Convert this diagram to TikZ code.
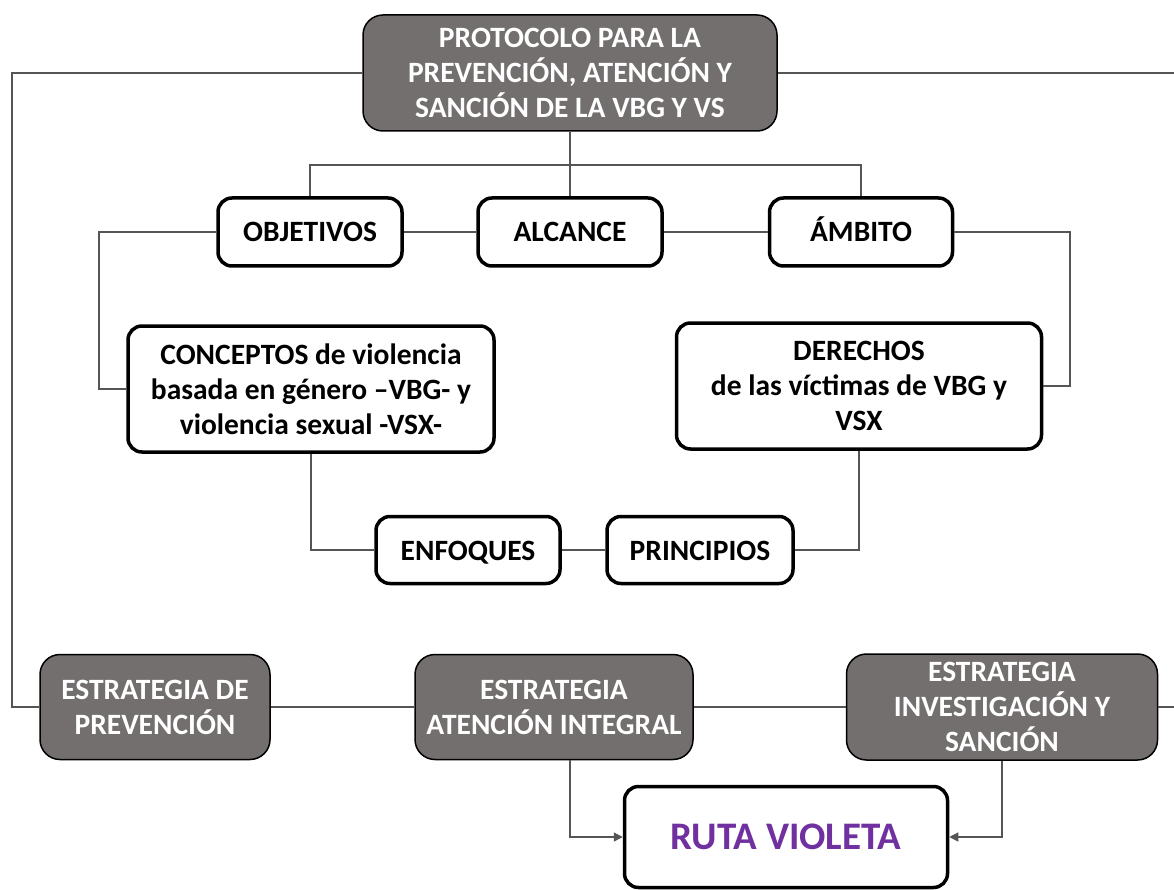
\documentclass[tikz,border=0pt]{standalone}
\usepackage{fontspec}
\setmainfont{Carlito}
\usepackage{xcolor}
\usepackage{tikz}
\usetikzlibrary{arrows.meta}
\definecolor{darkbox}{HTML}{736F6E}
\definecolor{violeta}{HTML}{7030A0}
\definecolor{linegray}{HTML}{555555}

\begin{document}
\begin{tikzpicture}[x = 1pt, y = -1pt, every text node part/.style={align=center}]
			\tikzstyle{lbl} = [font = \fontsize{29.5}{35}\selectfont\bfseries, inner sep = 0pt]
			\tikzstyle{dark} = [lbl, draw = black, line width = 1.5pt, fill = darkbox, text = white, rounded corners = 20pt]
			\tikzstyle{light} = [lbl, draw = black, line width = 3.5pt, fill = white, rounded corners = 14pt]
			\tikzstyle{oneline} = [light, text height = 23pt, text depth = 3pt]
			\tikzstyle{conn} = [draw = linegray, line width = 1.3pt]
			\tikzstyle{arr} = [conn, -{Triangle[length=9pt, width=9pt]}]
			\useasboundingbox (0, 0) rectangle (1174, 890);
			\path (570, 73) node[dark, minimum width = 414, minimum height = 116] (top) {PROTOCOLO PARA LA\\PREVENCIÓN, ATENCIÓN Y\\SANCIÓN DE LA VBG Y VS};
			\path (310, 232) node[oneline, minimum width = 184, minimum height = 68] (obj) {OBJETIVOS};
			\path (570, 232) node[oneline, minimum width = 184, minimum height = 68] (alc) {ALCANCE};
			\path (861, 232) node[oneline, minimum width = 183, minimum height = 68] (amb) {ÁMBITO};
			\path (311, 389) node[light, minimum width = 366, minimum height = 126] (con) {CONCEPTOS de violencia\\basada en género –VBG- y\\violencia sexual -VSX-};
			\path (859, 386) node[light, minimum width = 365, minimum height = 126] (der) {DERECHOS\\de las víctimas de VBG y\\VSX};
			\path (468, 550) node[oneline, minimum width = 184, minimum height = 67] (enf) {ENFOQUES};
			\path (700, 550) node[oneline, minimum width = 186, minimum height = 67] (pri) {PRINCIPIOS};
			\path (155, 707) node[dark, minimum width = 230, minimum height = 105] (prev) {ESTRATEGIA DE\\PREVENCIÓN};
			\path (554, 707) node[dark, minimum width = 278, minimum height = 105] (aten) {ESTRATEGIA\\ATENCIÓN INTEGRAL};
			\path (1002, 707) node[dark, minimum width = 311, minimum height = 106] (inv) {ESTRATEGIA\\INVESTIGACIÓN Y\\SANCIÓN};
			\path (786, 837) node[light, minimum width = 323, minimum height = 101, text = violeta, font = \fontsize{39}{47}\selectfont\bfseries] (ruta) {RUTA VIOLETA};

			\coordinate (split) at (570, 165);
			\coordinate (leftx) at (12, 0);
			\coordinate (rightx) at (1186, 0);
			\coordinate (objx) at (99, 0);
			\coordinate (ambx) at (1070, 0);

			\path[conn] (top.south) -- (split);
			\path[conn] (obj.north) |- (split) -| (amb.north);
			\path[conn] (split) -- (alc.north);
			\path[conn] (obj.east) -- (alc.west);
			\path[conn] (alc.east) -- (amb.west);

			\path[conn] (obj.west) -- (obj.west -| objx) |- (con.west);
			\path[conn] (amb.east) -- (amb.east -| ambx) |- (der.east);
			\path[conn] (con.south) |- (enf.west);
			\path[conn] (enf.east) -- (pri.west);
			\path[conn] (pri.east) -| (der.south);

			\path[conn] (top.west) -- (top.west -| leftx) |- (prev.west);
			\path[conn] (top.east) -- (top.east -| rightx) |- (inv.east);
			\path[conn] (prev.east) -- (aten.west);
			\path[conn] (aten.east) -- (inv.west);

			\path[arr] (aten.south -| top.south) |- (ruta.west);
			\path[arr] (inv.south) |- (ruta.east);
		\end{tikzpicture}
\end{document}
